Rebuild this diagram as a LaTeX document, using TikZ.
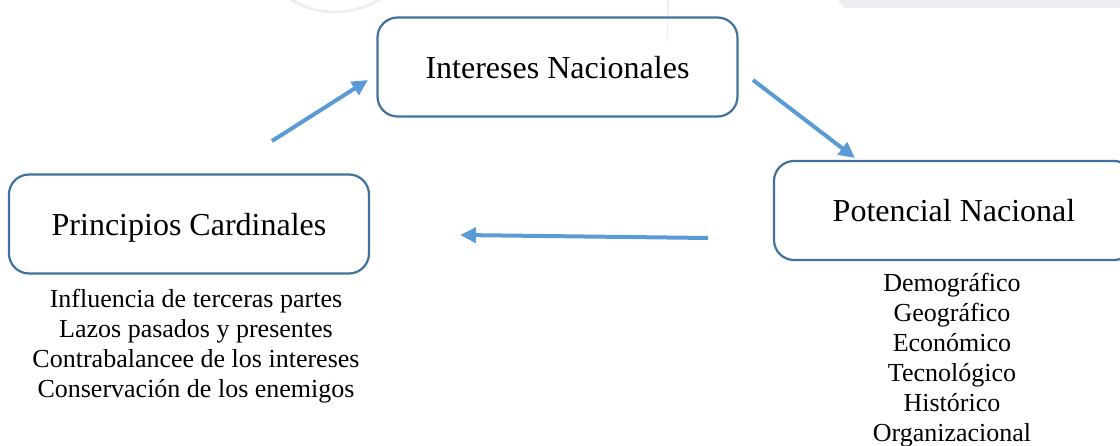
\documentclass[tikz,border=0pt]{standalone}
\usepackage{fontspec}
\setmainfont{Liberation Serif}
\usetikzlibrary{arrows.meta}
\definecolor{boxblue}{HTML}{41719C}
\definecolor{arrowblue}{HTML}{5B9BD5}
\definecolor{wmgray}{HTML}{EEEEF2}
\begin{document}
\begin{tikzpicture}[x=1pt,y=-1pt,
  box/.style={draw=boxblue, line width=2.2pt, rounded corners=20pt,
    minimum width=360pt, minimum height=99pt, inner sep=0pt,
    text height=23pt, text depth=0pt,
    font=\fontsize{32}{38}\selectfont},
  listtext/.style={align=center, inner sep=0pt,
    font=\fontsize{26}{30}\selectfont},
  flow/.style={draw=arrowblue, line width=4pt,
    -{Triangle[length=16pt,width=15pt]}},
  wm/.style={wmgray}]
\clip (0,0) rectangle (1120,446);
% faint watermark
\draw[wm, line width=3pt] (335,-72) circle[radius=84];
\fill[wm] (667,0) -- (669,0) -- (667.6,42) -- (667.2,42) -- cycle;
\fill[wm] (838,0) -- (1120,0) -- (1120,8) -- (844,8) -- cycle;
% boxes
\node[box] (ii) at (557.5,67) {Intereses Nacionales};
\node[box] (pc) at (189,224) {Principios Cardinales};
\node[box] (pn) at (954,210.5) {Potencial Nacional};
% lists
\node[listtext] (lpc) at (196,346) {Influencia de terceras partes\\Lazos pasados y presentes\\Contrabalancee de los intereses\\Conservación de los enemigos};
\node[listtext] (lpn) at (952,360) {Demográfico\\Geográfico\\Económico\\Tecnológico\\Histórico\\Organizacional};
% arrows
\coordinate (a1s) at (272,141); \coordinate (a1e) at (368,80);
\coordinate (a2s) at (753,80);  \coordinate (a2e) at (855,158);
\coordinate (a3s) at (708,238); \coordinate (a3e) at (460,235);
\draw[flow] (a1s) -- (a1e);
\draw[flow] (a2s) -- (a2e);
\draw[flow] (a3s) -- (a3e);
\end{tikzpicture}
\end{document}
